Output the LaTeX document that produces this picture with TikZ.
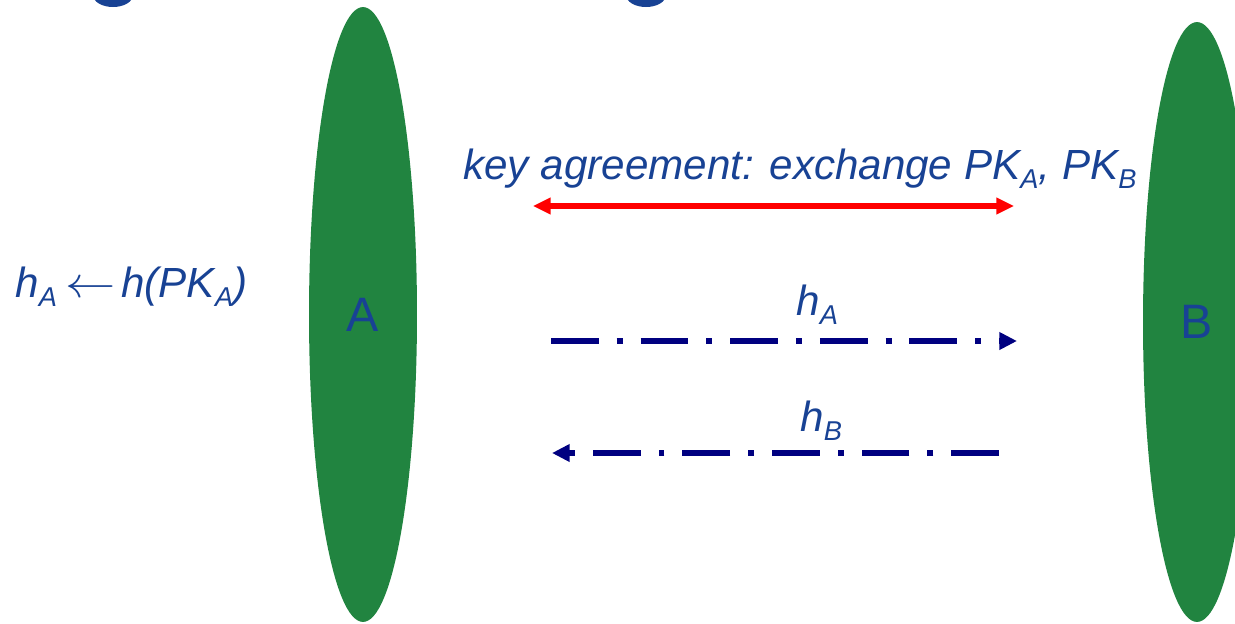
\documentclass[tikz,border=0pt]{standalone}
\usepackage{fontspec}
\setmainfont{Liberation Sans}
\usepackage{tikz}
\usetikzlibrary{shapes.geometric,arrows.meta}

\definecolor{txtblue}{RGB}{24,66,148}
\definecolor{partygreen}{RGB}{33,132,64}
\definecolor{msgnavy}{RGB}{0,0,128}

% lowered subscript as in the slide
\newcommand{\lowsub}[1]{\raisebox{-5.5pt}{\fontsize{15.5}{17}\selectfont #1}}

\tikzset{
  party/.style={ellipse, fill=partygreen, inner sep=0pt, minimum width=2.16cm,
    text=txtblue, font=\fontsize{27.5}{30}\selectfont},
  lbl/.style={text=txtblue, inner sep=0pt, font=\fontsize{24}{28}\selectfont\itshape},
  keyarrow/.style={red, line width=3pt, {Triangle[length=10pt,width=9pt]}-{Triangle[length=10pt,width=9pt]}},
  hashmsg/.style={msgnavy, line width=3pt, dash pattern=on 27.2pt off 10.2pt on 3.4pt off 10.2pt,
    -{Triangle[length=10pt,width=9.5pt]}}
}

\begin{document}
\begin{tikzpicture}[x=0.02cm, y=-0.02cm]
        \useasboundingbox (0,0) rectangle (1235,623);
        \clip (0,0) rectangle (1235,623);

        % bits of the title above
        \fill[txtblue] (113,-5) ellipse (20 and 12);
        \fill[txtblue] (646,-5) ellipse (20 and 12);

        % the two parties
        \node[party, minimum height=12.3cm] (A) at (363,314.5) {A};
        \node[party, minimum height=12cm] (B) at (1197,322) {B};

        % local hash
        \node[lbl, anchor=base west] (hash) at (15,297)
          {h\lowsub{A}\hspace{5pt}\scalebox{1.15}[1]{$\leftarrow$}\hspace{3pt}h(PK\lowsub{A})};

        % key agreement
        \node[lbl, anchor=base west] (keytxt) at (463,179) {key agreement: exchange PK\lowsub{A}, PK\lowsub{B}};
        \coordinate (keyL) at (533,206);
        \coordinate (keyR) at (1014,206);
        \draw[keyarrow] (keyL) -- (keyR);

        % hash values sent over
        \coordinate (hAfrom) at (551,341);
        \coordinate (hAto) at (1017,341);
        \draw[hashmsg] (hAfrom) -- (hAto);
        \node[lbl, anchor=base west] (hAlbl) at (796,315) {h\lowsub{A}};

        \coordinate (hBfrom) at (999,453);
        \coordinate (hBto) at (552,453);
        \draw[hashmsg] (hBfrom) -- (hBto);
        \node[lbl, anchor=base west] (hBlbl) at (800,431) {h\lowsub{B}};
    \end{tikzpicture}
\end{document}
